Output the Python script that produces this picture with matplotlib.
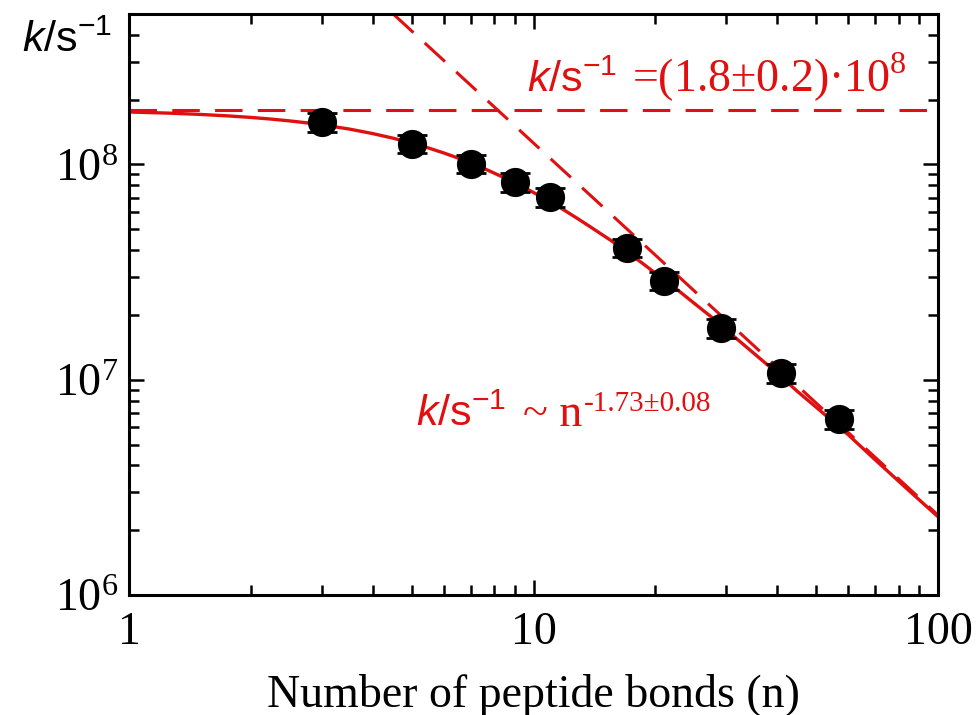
import matplotlib
matplotlib.use("Agg")
import matplotlib.pyplot as plt
from matplotlib.ticker import FixedLocator, FixedFormatter

plt.rcParams['font.family'] = 'Liberation Serif'
plt.rcParams['mathtext.fontset'] = 'custom'
plt.rcParams['mathtext.rm'] = 'Liberation Sans'
plt.rcParams['mathtext.it'] = 'Liberation Sans:italic'

# measured rates
n_bonds = [3, 5, 7, 9, 11, 17, 21, 29, 41, 57]
k_rate = [1.57e8, 1.25e8, 1.01e8, 8.3e7, 7.05e7, 4.11e7, 2.89e7, 1.73e7, 1.07e7, 6.59e6]
k_err = [1.6e7, 1.25e7, 1.0e7, 8.3e6, 7.0e6, 4.1e6, 2.9e6, 1.75e6, 1.07e6, 6.6e5]

# fitted curve
fit_n = [1, 1.25, 1.5, 1.75, 2, 2.25, 2.5, 2.75, 3, 3.5, 4, 4.5, 5, 5.5, 6, 6.5, 7, 7.5, 8.5,
         9.5, 10, 11, 12, 13, 14, 15.5, 17, 18.5, 20, 22.5, 25, 27.5, 30, 35, 40, 45, 50,
         60, 70, 85, 100]
fit_k = [1.753e8, 1.732e8, 1.708e8, 1.682e8, 1.654e8, 1.624e8, 1.593e8, 1.561e8, 1.528e8,
         1.461e8, 1.392e8, 1.324e8, 1.258e8, 1.193e8, 1.131e8, 1.072e8, 1.016e8, 9.63e7,
         8.65e7, 7.80e7, 7.41e7, 6.72e7, 6.08e7, 5.53e7, 5.05e7, 4.45e7, 3.93e7, 3.50e7,
         3.13e7, 2.65e7, 2.26e7, 1.96e7, 1.70e7, 1.33e7, 1.075e7, 8.8e6, 7.45e6, 5.55e6,
         4.24e6, 3.04e6, 2.31e6]

# asymptotes
plateau = 1.8e8
power_n = [4.5, 100]
power_k = [5e8, 2.35e6]

xticks = [1, 10, 100]
xtick_labels = ['1', '10', '100']

red = '#e01010'
fig = plt.figure(figsize=(9.77, 7.15), dpi=100)
ax = fig.add_axes([129/977, 1-595/715, (938-129)/977, (595-14)/715])

ax.axhline(plateau, color=red, lw=2.2, dashes=(9, 5))
ax.plot(power_n, power_k, color=red, lw=2.2, dashes=(9, 5))
ax.plot(fit_n, fit_k, color=red, lw=2.4)
ax.errorbar(n_bonds, k_rate, yerr=k_err, fmt='o', color='black', ms=20,
            capsize=11, capthick=2, elinewidth=1.5, zorder=5)

ax.set_xscale('log')
ax.set_yscale('log')
ax.set_xlim(1, 100)
ax.set_ylim(1e6, 5e8)
ax.xaxis.set_major_locator(FixedLocator(xticks))
ax.xaxis.set_major_formatter(FixedFormatter(xtick_labels))
for s in ax.spines.values():
    s.set_linewidth(2.2)
ax.tick_params(which='both', direction='in', top=True, right=True, labelsize=33, width=1.8)
ax.tick_params(which='major', length=11)
ax.tick_params(which='minor', length=7)
ax.tick_params(axis='x', pad=12)
ax.tick_params(axis='y', pad=8)
ax.set_xlabel('Number of peptide bonds (n)', fontsize=33, labelpad=14)

fig.text(22/977, 1-52/715, r'$\mathit{k}\mathrm{/s}^{-1}$', fontsize=31, va='baseline')

fig.text(527/977, 1-92/715, r'$\mathit{k}\mathrm{/s}^{-1}$', fontsize=31, color=red, va='baseline')
fig.text(632/977, 1-92/715, r'=(1.8±0.2)·10$^{\mathdefault{8}}$', fontsize=33, color=red, va='baseline')

fig.text(416/977, 1-426/715, r'$\mathit{k}\mathrm{/s}^{-1}$', fontsize=31, color=red, va='baseline')
fig.text(523/977, 1-426/715, '~ n', fontsize=33, color=red, va='baseline')
fig.text(584/977, 1-411/715, '-1.73±0.08', fontsize=21, color=red, va='baseline')

fig.savefig('out.png', dpi=100)
